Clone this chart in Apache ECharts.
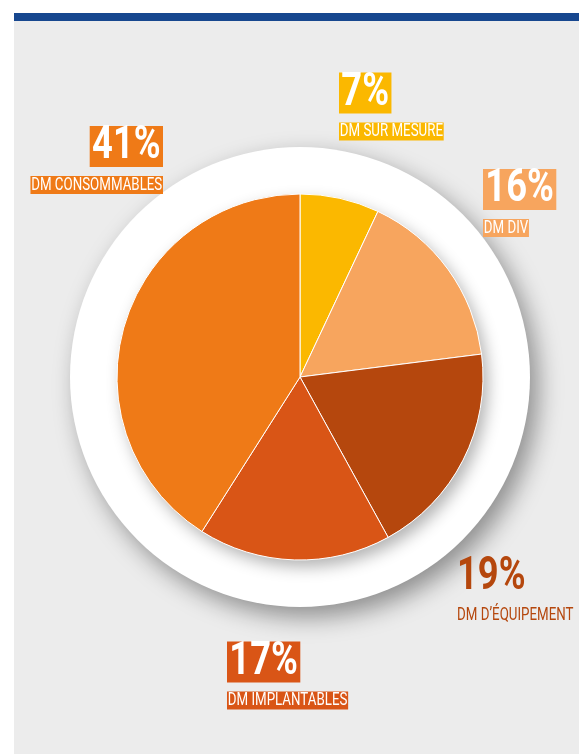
<!DOCTYPE html>
<html>
<head>
<meta charset="utf-8">
<script src="https://cdn.jsdelivr.net/npm/echarts@6/dist/echarts.min.js"></script>
<style>
html,body{margin:0;padding:0;background:#fff;}
#chart{width:579px;height:754px;}
</style>
</head>
<body>
<div id="chart"></div>
<script>
// ---- data ----
const categories = ['DM SUR MESURE', 'DM DIV', 'DM D\u2019ÉQUIPEMENT', 'DM IMPLANTABLES', 'DM CONSOMMABLES'];
const values = [7, 16, 19, 17, 41];

// ---- styles / layout (kept separate from data) ----
const colors = ['#FBB800', '#F7A55E', '#B5470D', '#D95516', '#EF7A17'];
// label anchors: [x, yOfPercentBoxCenter, align, boxed]
const labelAnchors = [
  [339, 93, 'left', true],
  [483, 189.5, 'left', true],
  [457, 577, 'left', false],
  [227, 662, 'left', true],
  [163, 146.5, 'right', true]
];
const CENTER = [300, 377];
const PIE_R = 183;
const DISK_R = 230;
const FONT = 'Roboto, "Liberation Sans", sans-serif';
const PCT_SCALE = 0.79;
const NAME_SCALE = 0.72;
const NAME_DY = 38.5;

const chart = echarts.init(document.getElementById('chart'), null, {renderer: 'canvas'});

const graphics = [
  {type: 'rect', z: -10, shape: {x: 14, y: 21, width: 565, height: 733}, style: {fill: '#ECECEC'}, silent: true},
  {type: 'rect', z: -10, shape: {x: 14, y: 13, width: 565, height: 8}, style: {fill: '#17478F'}, silent: true}
];

categories.forEach(function (name, i) {
  const a = labelAnchors[i];
  const boxed = a[3];
  graphics.push({
    type: 'text', z: 100, silent: true,
    x: a[0], y: a[1], scaleX: PCT_SCALE,
    style: {
      text: values[i] + '%',
      fontFamily: FONT, fontSize: 46, fontWeight: 'bold',
      fill: boxed ? '#FFFFFF' : colors[i],
      align: a[2], verticalAlign: 'middle',
      lineHeight: 39,
      backgroundColor: boxed ? colors[i] : 'transparent',
      padding: boxed ? [2, 3, 0, 3] : 0
    }
  });
  graphics.push({
    type: 'text', z: 100, silent: true,
    x: a[0], y: a[1] + NAME_DY, scaleX: NAME_SCALE,
    style: {
      text: name,
      fontFamily: FONT, fontSize: 18.5, fontWeight: 'normal',
      fill: boxed ? '#FFFFFF' : colors[i],
      align: a[2], verticalAlign: 'middle',
      lineHeight: 17,
      backgroundColor: boxed ? colors[i] : 'transparent',
      padding: boxed ? [1, 1, 0, 1] : 0
    }
  });
});

const option = {
  animation: false,
  backgroundColor: '#FFFFFF',
  graphic: graphics,
  series: [
    {
      type: 'pie', silent: true, z: 1,
      center: CENTER, radius: DISK_R,
      label: {show: false}, labelLine: {show: false},
      itemStyle: {color: '#FFFFFF', shadowBlur: 24, shadowColor: 'rgba(0,0,0,0.4)', shadowOffsetX: 8, shadowOffsetY: 10},
      data: [{value: 1}]
    },
    {
      type: 'pie', silent: true, z: 2,
      center: CENTER, radius: PIE_R,
      label: {show: false}, labelLine: {show: false},
      itemStyle: {color: '#FFFFFF', shadowBlur: 16, shadowColor: 'rgba(0,0,0,0.3)', shadowOffsetX: 5, shadowOffsetY: 7},
      data: [{value: 1}]
    },
    {
      type: 'pie', silent: true, z: 3,
      center: CENTER, radius: PIE_R,
      startAngle: 90, clockwise: true,
      label: {show: false}, labelLine: {show: false},
      itemStyle: {borderColor: '#FFFFFF', borderWidth: 1},
      data: categories.map(function (c, i) {
        return {name: c, value: values[i], itemStyle: {color: colors[i]}};
      })
    }
  ]
};
chart.setOption(option);
</script>
</body>
</html>
